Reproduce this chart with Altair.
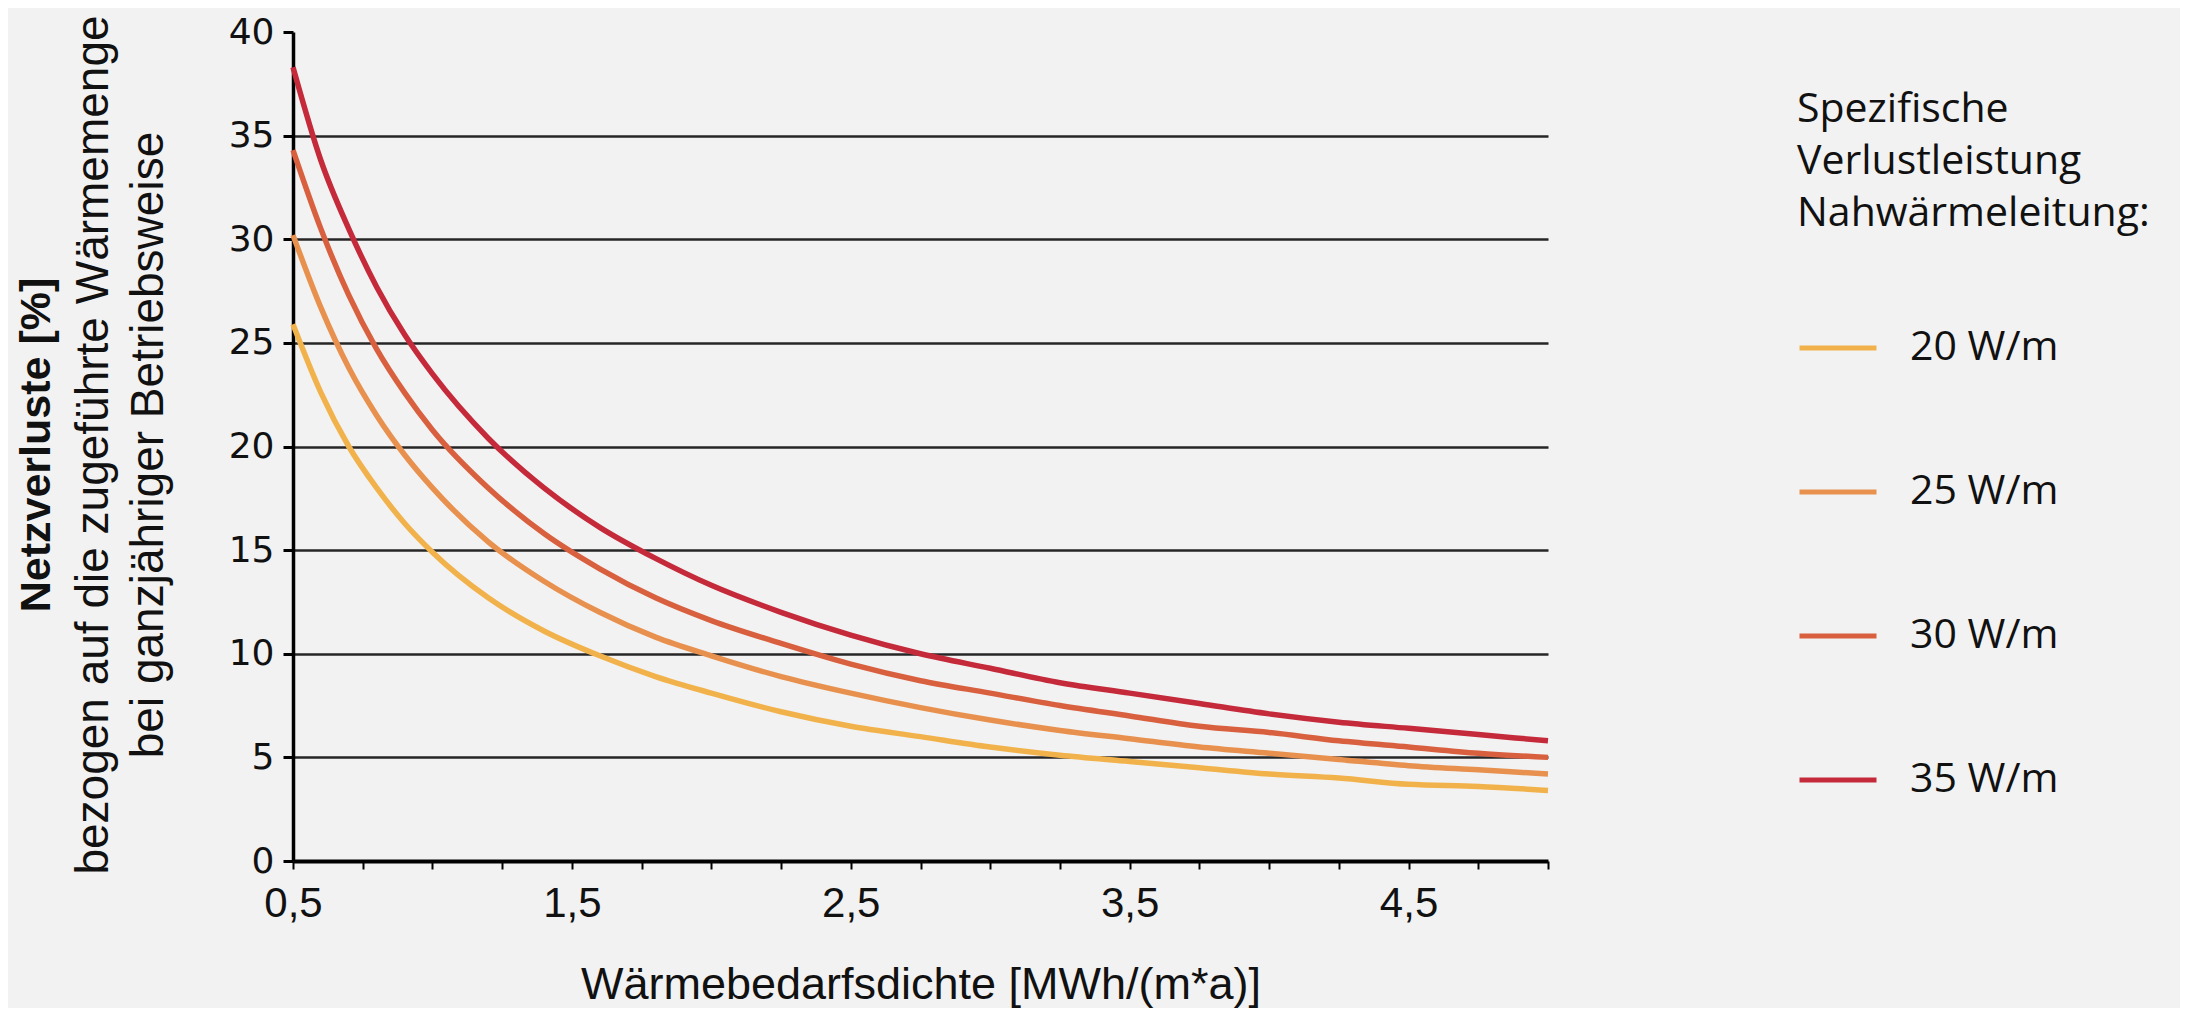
import altair as alt
import pandas as pd

# Wärmebedarfsdichte [MWh/(m*a)]
xs = [0.5, 0.6, 0.7, 0.8, 0.9, 1.0, 1.2, 1.4, 1.6, 1.8, 2.0, 2.25, 2.5, 2.75,
      3.0, 3.25, 3.5, 3.75, 4.0, 4.25, 4.5, 4.75, 5.0]
# Netzverluste [%] per specific loss rating
w20 = [25.9, 22.6, 20.0, 18.0, 16.3, 14.9, 12.7, 11.1, 9.9, 8.9, 8.1, 7.2, 6.5, 6.0,
       5.5, 5.1, 4.8, 4.5, 4.2, 4.0, 3.7, 3.6, 3.4]
w25 = [30.2, 26.7, 23.8, 21.5, 19.6, 18.0, 15.4, 13.5, 12.0, 10.8, 9.9, 8.9, 8.1, 7.4,
       6.8, 6.3, 5.9, 5.5, 5.2, 4.9, 4.6, 4.4, 4.2]
w30 = [34.3, 30.5, 27.3, 24.7, 22.6, 20.8, 18.0, 15.8, 14.1, 12.7, 11.6, 10.5, 9.5, 8.7,
       8.1, 7.5, 7.0, 6.5, 6.2, 5.8, 5.5, 5.2, 5.0]
w35 = [38.3, 33.8, 30.5, 27.7, 25.4, 23.5, 20.4, 18.0, 16.1, 14.6, 13.3, 12.0, 10.9, 10.0,
       9.3, 8.6, 8.1, 7.6, 7.1, 6.7, 6.4, 6.1, 5.8]

series_names = ["20 W/m", "25 W/m", "30 W/m", "35 W/m"]
series_values = [w20, w25, w30, w35]
colors = ["#F2B24B", "#E8914F", "#D9603F", "#C42A3A"]

x_ticks = [0.5, 0.75, 1.0, 1.25, 1.5, 1.75, 2.0, 2.25, 2.5, 2.75, 3.0, 3.25,
           3.5, 3.75, 4.0, 4.25, 4.5, 4.75, 5.0]
y_ticks = [0, 5, 10, 15, 20, 25, 30, 35, 40]

legend_title = ["Spezifische", "Verlustleistung", "Nahwärmeleitung:"]
x_title = "Wärmebedarfsdichte [MWh/(m*a)]"
y_title_bold = "Netzverluste [%]"
y_title_rest = ["bezogen auf die zugeführte Wärmemenge", "bei ganzjähriger Betriebsweise"]

rows = []
for name, vals in zip(series_names, series_values):
    for xv, yv in zip(xs, vals):
        rows.append({"x": xv, "y": yv, "s": name})
df = pd.DataFrame(rows)

W, H = 1255, 829

lines = alt.Chart(df).mark_line(strokeWidth=5.5, interpolate="monotone").encode(
    x=alt.X("x:Q",
            scale=alt.Scale(domain=[0.5, 5.0], nice=False, zero=False),
            axis=alt.Axis(
                values=x_ticks,
                labelExpr="(datum.value*2)%2==1 ? replace(format(datum.value,'.1f'),'.',',') : ''",
                title=x_title,
                grid=False,
                domainColor="#000000", domainWidth=4,
                tickColor="#000000", tickWidth=2, tickSize=8,
                labelFont="Liberation Sans Narrow, Liberation Sans", labelFontSize=42,
                labelColor="#111111",
                labelPadding=14, labelFlush=False, labelOverlap=False,
                titleFont="Liberation Sans", titleFontSize=45, titleFontWeight="normal",
                titleColor="#111111", titlePadding=38,
            )),
    y=alt.Y("y:Q",
            scale=alt.Scale(domain=[0, 40], nice=False),
            axis=alt.Axis(
                values=y_ticks,
                title=None,
                grid=True,
                gridColor="#262626", gridWidth=2.5,
                gridOpacity={"condition": {"test": "datum.value == 0 || datum.value == 40", "value": 0}, "value": 1},
                domainColor="#000000", domainWidth=3.5,
                tickColor="#000000", tickWidth=3, tickSize=10,
                labelFont="DejaVu Sans", labelFontSize=36, labelColor="#111111",
                labelPadding=9, labelOverlap=False,
            )),
    color=alt.Color("s:N",
                    scale=alt.Scale(domain=series_names, range=colors),
                    sort=series_names,
                    legend=alt.Legend(
                        title=legend_title,
                        orient="none", legendX=1504, legendY=58,
                        direction="vertical",
                        symbolType="stroke", symbolSize=5929, symbolStrokeWidth=5,
                        labelFont="Open Sans", labelFontSize=41, labelColor="#111111",
                        labelOffset=31, labelLimit=600,
                        titleFont="Open Sans", titleFontSize=41, titleFontWeight="normal",
                        titleColor="#111111", titleLineHeight=52, titlePadding=72,
                        titleLimit=800,
                        rowPadding=83, padding=0,
                    )),
)

one_row = alt.Data(values=[{}])

ytitle_bold = alt.Chart(one_row).mark_text(
    text=y_title_bold, angle=270, align="center", baseline="alphabetic",
    font="Liberation Sans", fontSize=43, fontWeight="bold", color="#111111",
).encode(x=alt.value(-243), y=alt.value(413))

ytitle_rest = alt.Chart(one_row).mark_text(
    text=y_title_rest, angle=270, align="center", baseline="alphabetic",
    font="Liberation Sans", fontSize=46, lineHeight=55, color="#111111",
).encode(x=alt.value(-185), y=alt.value(413))

chart = alt.layer(lines, ytitle_bold, ytitle_rest).properties(
    width=W, height=H,
    padding={"left": 285, "top": 24, "right": 632, "bottom": 147},
    autosize=alt.AutoSizeParams(type="none"),
    background="#F2F2F2",
).configure_view(stroke=None)

chart.save("out.html", embed_options={"renderer": "svg", "actions": False})
